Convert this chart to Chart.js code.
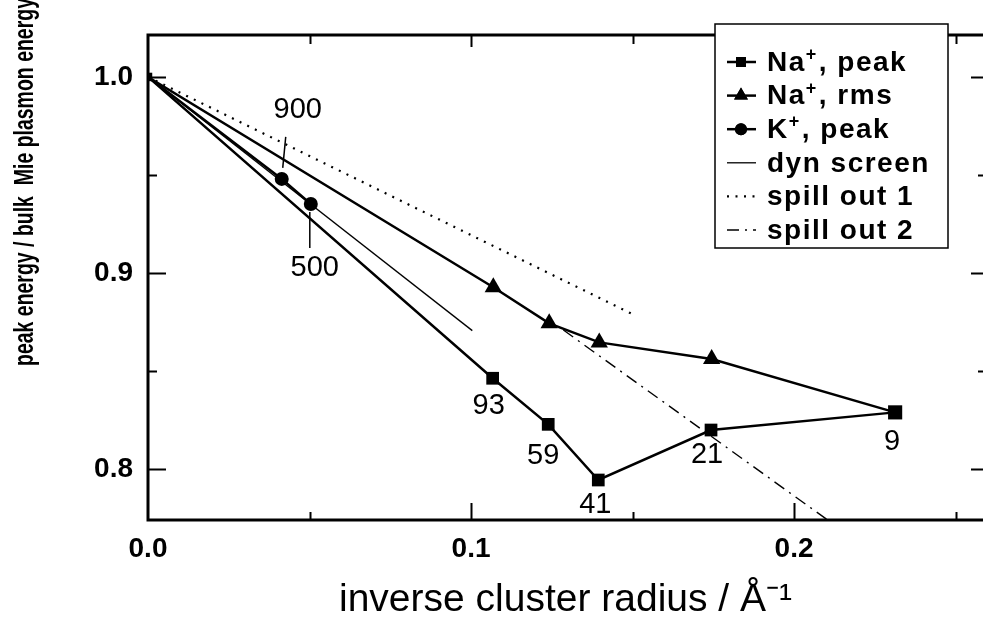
<!DOCTYPE html>
<html>
<head>
<meta charset="utf-8">
<script src="https://cdn.jsdelivr.net/npm/chart.js@4.4.1/dist/chart.umd.min.js"></script>
<style>
  html, body { margin: 0; padding: 0; background: #fff; }
</style>
</head>
<body>
<canvas id="chart" width="983" height="626"></canvas>
<script>
// values
const naPeakX = [0, 0.1067, 0.1239, 0.1394, 0.1743, 0.2313]
const naPeakY = [1.0, 0.8463, 0.8228, 0.7944, 0.8199, 0.8289]
const naPeakSizes = ['', '93', '59', '41', '21', '9']

const naRmsX = [0, 0.1069, 0.1242, 0.1397, 0.1745, 0.2313]
const naRmsY = [1.0, 0.8927, 0.8743, 0.8646, 0.8561, 0.8289]

const kPeakX = [0, 0.0414, 0.0504]
const kPeakY = [1.0, 0.948, 0.9352]
const kPeakSizes = ['', '900', '500']

const dynScreenX = [0, 0.1004]
const dynScreenY = [1.0, 0.8706]
const spill1X = [0, 0.1505]
const spill1Y = [1.0, 0.8786]
const spill2X = [0.1286, 0.2104]
const spill2Y = [0.8709, 0.774]

const xTicks = [0.0, 0.1, 0.2]
const yTicks = [0.8, 0.9, 1.0]
const xMinor = [0.05, 0.15, 0.25]
const yMinor = [0.85, 0.95]

const FONT = "'Liberation Sans', Arial, Helvetica, sans-serif"

const pts = (xs, ys) => xs.map((x, i) => ({x: x, y: ys[i]}))

// label offsets (px) relative to the marker, and leader lines
const sizeLabelStyle = {
  '93': {dx: -4, dy: 28}, '59': {dx: -5, dy: 32}, '41': {dx: -3, dy: 25},
  '21': {dx: -4, dy: 25}, '9': {dx: -3, dy: 30},
  '900': {dx: 16, dy: -69, lead: [1, -11, 4, -42]},
  '500': {dx: 4, dy: 64, lead: [-1, 8, -1, 44]}
}

function drawLabelText(ctx, label, x, y) {
  // "Na+, peak" -> superscript plus
  const m = label.match(/^(Na|K)\+(.*)$/)
  if (!m) { ctx.fillText(label, x, y); return }
  ctx.fillText(m[1], x, y)
  let w = ctx.measureText(m[1]).width
  const f = ctx.font
  ctx.font = "bold 18px " + FONT
  ctx.fillText('+', x + w, y - 8)
  w += ctx.measureText('+').width + 1
  ctx.font = f
  ctx.fillText(m[2], x + w, y)
}

const decorPlugin = {
  id: 'decor',
  afterDatasetsDraw(chart) {
    const ctx = chart.ctx
    const a = chart.chartArea
    const sx = chart.scales.x, sy = chart.scales.y
    ctx.save()
    ctx.strokeStyle = '#000'
    ctx.fillStyle = '#000'

    // frame (right side falls just outside the picture)
    ctx.lineWidth = 3
    ctx.strokeRect(a.left, a.top, a.right - a.left + 4, a.bottom - a.top)

    // inward tick marks
    ctx.lineWidth = 2
    ctx.beginPath()
    xTicks.concat(xMinor).forEach(v => {
      const px = Math.round(sx.getPixelForValue(v)) + 0.5
      const major = xTicks.includes(v)
      if (v > 0) {
        ctx.moveTo(px, a.bottom); ctx.lineTo(px, a.bottom - (major ? 17 : 8))
        ctx.moveTo(px, a.top); ctx.lineTo(px, a.top + (major ? 12 : 9))
      }
    })
    yTicks.concat(yMinor).forEach(v => {
      const py = Math.round(sy.getPixelForValue(v)) + 0.5
      const major = yTicks.includes(v)
      ctx.moveTo(a.left, py); ctx.lineTo(a.left + (major ? 18 : 9), py)
      ctx.moveTo(a.right, py); ctx.lineTo(a.right - (major ? 12 : 5), py)
    })
    ctx.stroke()

    // cluster size labels
    ctx.font = "29px " + FONT
    ctx.textAlign = 'center'
    ctx.textBaseline = 'middle'
    ctx.lineWidth = 1.5
    ;[[0, naPeakSizes], [2, kPeakSizes]].forEach(([di, sizes]) => {
      const meta = chart.getDatasetMeta(di)
      sizes.forEach((s, i) => {
        if (!s) return
        const p = meta.data[i]
        const st = sizeLabelStyle[s]
        ctx.fillText(s, p.x + st.dx, p.y + st.dy)
        if (st.lead) {
          ctx.beginPath()
          ctx.moveTo(p.x + st.lead[0], p.y + st.lead[1])
          ctx.lineTo(p.x + st.lead[2], p.y + st.lead[3])
          ctx.stroke()
        }
      })
    })

    // y axis title (narrow, reaching the top edge)
    const yTitle = 'peak energy / bulk  Mie plasmon energy'
    ctx.font = "bold 28px " + FONT
    const tw = ctx.measureText(yTitle).width
    ctx.translate(33, 366)
    ctx.rotate(-Math.PI / 2)
    ctx.scale(368 / tw, 1)
    ctx.textAlign = 'left'
    ctx.textBaseline = 'alphabetic'
    ctx.fillText(yTitle, 0, 0)
    ctx.restore()

    // legend
    ctx.save()
    const box = {l: 715, t: 24, r: 948, b: 248}
    ctx.fillStyle = '#fff'
    ctx.fillRect(box.l, box.t, box.r - box.l, box.b - box.t)
    ctx.strokeStyle = '#000'
    ctx.lineWidth = 1.5
    ctx.strokeRect(box.l, box.t, box.r - box.l, box.b - box.t)
    ctx.fillStyle = '#000'
    ctx.textAlign = 'left'
    ctx.textBaseline = 'middle'
    chart.data.datasets.forEach((ds, i) => {
      const yy = 62 + i * 33.6
      ctx.save()
      ctx.lineWidth = ds.borderWidth
      ctx.setLineDash(ds.borderDash || [])
      ctx.beginPath()
      ctx.moveTo(727, yy); ctx.lineTo(756, yy)
      ctx.stroke()
      ctx.restore()
      if (ds.pointStyle && ds.legendRadius) {
        Chart.helpers.drawPoint(ctx, {pointStyle: ds.pointStyle, radius: ds.legendRadius, borderWidth: 0}, 741, yy)
        ctx.fill()
      }
      ctx.font = "bold 28px " + FONT
      ctx.letterSpacing = '1.5px'
      drawLabelText(ctx, ds.label, 767, yy + 1)
    })
    ctx.restore()
  }
}

new Chart(document.getElementById('chart'), {
  type: 'scatter',
  data: {
    datasets: [
      {label: 'Na+, peak', data: pts(naPeakX, naPeakY), showLine: true, borderColor: '#000', backgroundColor: '#000',
       borderWidth: 2.5, pointStyle: 'rect', pointRadius: [6, 9, 9, 9, 9, 10], pointBorderWidth: 0, legendRadius: 7},
      {label: 'Na+, rms', data: pts(naRmsX, naRmsY), showLine: true, borderColor: '#000', backgroundColor: '#000',
       borderWidth: 2.5, pointStyle: 'triangle', pointRadius: [0, 10, 10, 10, 10, 0], pointBorderWidth: 0, legendRadius: 8},
      {label: 'K+, peak', data: pts(kPeakX, kPeakY), showLine: true, borderColor: '#000', backgroundColor: '#000',
       borderWidth: 2.5, pointStyle: 'circle', pointRadius: [0, 7, 7], pointBorderWidth: 0, legendRadius: 6},
      {label: 'dyn screen', data: pts(dynScreenX, dynScreenY), showLine: true, borderColor: '#000',
       borderWidth: 1.3, pointRadius: 0},
      {label: 'spill out 1', data: pts(spill1X, spill1Y), showLine: true, borderColor: '#000',
       borderWidth: 2.2, borderDash: [2, 6.5], pointRadius: 0},
      {label: 'spill out 2', data: pts(spill2X, spill2Y), showLine: true, borderColor: '#000',
       borderWidth: 1.4, borderDash: [12, 6, 2, 6], pointRadius: 0}
    ]
  },
  options: {
    responsive: false,
    animation: false,
    devicePixelRatio: 1,
    layout: {autoPadding: false, padding: {top: 35, right: 0, left: 0, bottom: 0}},
    plugins: {legend: {display: false}, tooltip: {enabled: false}},
    scales: {
      x: {
        type: 'linear', min: 0, max: 0.2585,
        grid: {display: false, drawTicks: false}, border: {display: false},
        ticks: {color: '#000', padding: 12, maxRotation: 0, autoSkip: false,
                font: {family: FONT, size: 28, weight: 'bold'}, callback: v => v.toFixed(1)},
        title: {display: true, text: 'inverse cluster radius / Å⁻¹', color: '#000',
                font: {family: FONT, size: 39}, padding: {top: 0, bottom: 2}},
        afterBuildTicks: s => { s.ticks = xTicks.map(v => ({value: v})) },
        afterFit: s => { s.height = 106 }
      },
      y: {
        type: 'linear', min: 0.774, max: 1.0214,
        grid: {display: false, drawTicks: false}, border: {display: false},
        ticks: {color: '#000', padding: 15,
                font: {family: FONT, size: 28, weight: 'bold'}, callback: v => v.toFixed(1)},
        afterBuildTicks: s => { s.ticks = yTicks.map(v => ({value: v})) },
        afterFit: s => { s.width = 148 }
      }
    }
  },
  plugins: [decorPlugin]
})
</script>
</body>
</html>
